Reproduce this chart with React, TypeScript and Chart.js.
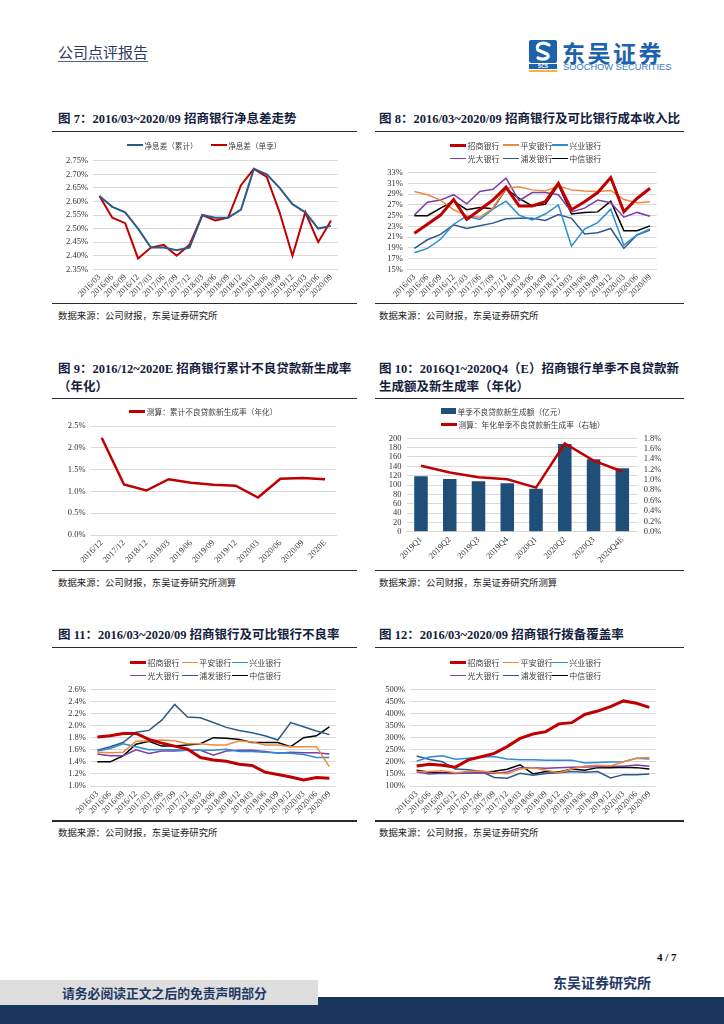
import React, { useEffect, useRef } from "react";
import { Chart, registerables } from "chart.js";

Chart.register(...registerables);

// ---------------- data ----------------
const quarters = ["2016/03","2016/06","2016/09","2016/12","2017/03","2017/06","2017/09","2017/12","2018/03","2018/06","2018/09","2018/12","2019/03","2019/06","2019/09","2019/12","2020/03","2020/06","2020/09"];

// Fig 7: net interest margin (%)
const nimNames = ["净息差（累计）", "净息差（单季）"];
const nimCumulative = [2.62,2.58,2.56,2.50,2.43,2.43,2.42,2.43,2.55,2.54,2.54,2.57,2.72,2.70,2.65,2.59,2.56,2.50,2.51];
const nimQuarterly = [2.62,2.54,2.52,2.39,2.43,2.44,2.40,2.44,2.55,2.53,2.54,2.66,2.72,2.69,2.56,2.40,2.56,2.45,2.53];

const bankNames = ["招商银行","平安银行","兴业银行","光大银行","浦发银行","中信银行"];

// Fig 8: cost-to-income ratio (%)
const cirCMB    = [21.7,23.4,25.1,28.0,24.3,26.1,27.9,30.3,26.8,26.8,27.6,31.0,26.1,27.6,29.3,32.1,25.7,28.2,30.1];
const cirPingAn = [29.5,28.9,27.9,26.1,25.0,24.7,26.4,30.1,30.4,29.8,29.6,30.5,29.8,29.6,29.5,29.7,28.0,27.4,27.6];
const cirCIB    = [18.1,18.9,20.6,23.4,24.9,24.3,26.2,27.7,25.1,24.2,25.3,27.0,19.3,22.5,23.7,26.2,19.5,21.4,22.5];
const cirCEB    = [25.1,27.5,27.9,28.9,27.2,29.5,29.9,32.0,27.8,29.3,29.3,28.9,25.7,26.4,27.9,27.4,24.7,25.6,24.9];
const cirSPDB   = [18.9,20.5,21.5,23.3,22.6,23.1,23.6,24.4,24.5,24.5,24.1,25.2,24.5,21.6,21.8,22.6,18.9,21.4,22.3];
const cirCITIC  = [25.0,25.0,26.4,27.7,26.1,26.5,26.3,30.0,28.2,26.8,27.1,30.7,25.3,25.6,25.7,27.7,22.2,22.2,23.1];

// Fig 9: cumulative NPL generation rate (annualised, %)
const genLabels = ["2016/12","2017/12","2018/12","2019/03","2019/06","2019/09","2019/12","2020/03","2020/06","2020/09","2020E"];
const genName = "测算：累计不良贷款新生成率（年化）";
const genRate = [2.23,1.16,1.02,1.28,1.20,1.15,1.13,0.86,1.29,1.31,1.28];

// Fig 10: quarterly new NPL amount and rate
const qLabels = ["2019Q1","2019Q2","2019Q3","2019Q4","2020Q1","2020Q2","2020Q3","2020Q4E"];
const qAmtName = "单季不良贷款新生成额（亿元）";
const qRateName = "测算：年化单季不良贷款新生成率（右轴）";
const qAmount = [119,113,108,104,92,188,155,136];
const qRate = [1.27,1.14,1.05,1.01,0.85,1.70,1.37,1.16];

// Fig 11: NPL ratio (%)
const nplCMB    = [1.81,1.83,1.87,1.87,1.77,1.71,1.66,1.61,1.47,1.43,1.41,1.36,1.34,1.23,1.19,1.15,1.10,1.14,1.13];
const nplPingAn = [1.56,1.55,1.56,1.74,1.75,1.76,1.75,1.70,1.70,1.68,1.68,1.75,1.73,1.68,1.68,1.65,1.65,1.65,1.32];
const nplCIB    = [1.58,1.62,1.70,1.65,1.60,1.60,1.60,1.59,1.59,1.59,1.61,1.57,1.57,1.56,1.55,1.54,1.52,1.47,1.47];
const nplCEB    = [1.53,1.50,1.50,1.60,1.54,1.58,1.58,1.59,1.59,1.51,1.58,1.59,1.59,1.57,1.54,1.56,1.55,1.55,1.53];
const nplSPDB   = [1.59,1.65,1.72,1.89,1.92,2.09,2.35,2.14,2.13,2.05,1.97,1.92,1.88,1.83,1.76,2.05,1.98,1.91,1.85];
const nplCITIC  = [1.40,1.40,1.50,1.69,1.74,1.66,1.66,1.68,1.70,1.80,1.79,1.77,1.72,1.72,1.72,1.65,1.80,1.83,1.98];

// Fig 12: provision coverage ratio (%)
const covCMB    = [183,190,186,178,208,221,235,263,297,315,325,357,362,396,410,428,452,442,425];
const covPingAn = [160,160,163,155,160,162,155,151,170,175,165,155,170,183,186,183,200,215,218];
const covCIB    = [203,220,225,211,215,220,222,212,209,209,207,207,207,195,197,199,200,215,212];
const covCEB    = [158,150,153,152,155,155,152,158,176,176,173,176,178,179,180,182,182,187,182];
const covSPDB   = [224,210,200,170,167,160,135,132,153,145,152,155,160,157,160,133,147,147,150];
const covCITIC  = [165,157,155,155,155,155,161,169,188,150,160,158,170,165,176,175,178,176,170];

// ---------------- styles ----------------
const RED = "#c00000";
const ORANGE = "#f0883e";
const LBLUE = "#2a8dd4";
const PURPLE = "#7b3fa8";
const DBLUE = "#2d5b89";
const BLACK = "#000000";
const bankColors = [RED, ORANGE, LBLUE, PURPLE, DBLUE, BLACK];
const bankWidths = [3, 1.5, 1.5, 1.5, 1.5, 1.5];

const SERIF = '"Liberation Serif", "Noto Sans CJK SC", serif';
const CJK = '"Noto Sans CJK SC", sans-serif';
const TITLE_FONT = '"Liberation Serif", "Noto Sans CJK SC", serif';
const tickFont = { family: '"Liberation Serif", serif', size: 8.5 };
const TICK_COLOR = "#333333";
const GRID = "#d9d9d9";

type Box = { x: number; y: number; w: number; h: number; yW: number; y2W?: number; padR: number; padT: number; xH: number };

function baseOptions(b: Box, yMin: number, yMax: number, step: number, fmt: (v: number) => string): any {
  return {
    responsive: true,
    maintainAspectRatio: false,
    animation: false,
    layout: { padding: { left: 0, right: b.padR, top: b.padT, bottom: 0 } },
    plugins: { legend: { display: false }, tooltip: { enabled: false } },
    elements: { point: { radius: 0 }, line: { tension: 0 } },
    scales: {
      x: {
        offset: true,
        grid: { display: false, drawTicks: false },
        border: { display: true, color: GRID },
        ticks: { autoSkip: false, minRotation: 45, maxRotation: 45, font: tickFont, color: TICK_COLOR, padding: 3 },
        afterFit: (s: any) => { s.height = b.xH; },
      },
      y: {
        min: yMin,
        max: yMax,
        grid: { color: GRID, drawTicks: false },
        border: { display: false },
        ticks: { autoSkip: false, stepSize: step, font: tickFont, color: TICK_COLOR, padding: 5, callback: (v: any) => fmt(Number(v)) },
        afterFit: (s: any) => { s.width = b.yW; },
      },
    },
  };
}

function bankDatasets(series: number[][]) {
  return series.map((d, i) => ({
    type: "line",
    label: bankNames[i],
    data: d,
    borderColor: bankColors[i],
    backgroundColor: bankColors[i],
    borderWidth: bankWidths[i],
    pointRadius: 0,
    order: i === 0 ? 0 : 1 + i,
  }));
}

// ---------------- boxes ----------------
const B7: Box = { x: 52, y: 132, w: 304, h: 171, yW: 41, padR: 18.5, padT: 28.7, xH: 33.7 };
const B8: Box = { x: 376, y: 132, w: 307, h: 171, yW: 31.8, padR: 26.4, padT: 40.7, xH: 33.7 };
const B9: Box = { x: 52, y: 399, w: 304, h: 169, yW: 38.5, padR: 19.8, padT: 27, xH: 33 };
const B10: Box = { x: 376, y: 399, w: 307, h: 169, yW: 30.6, y2W: 25.3, padR: 21, padT: 39.3, xH: 36.3 };
const B11: Box = { x: 52, y: 649, w: 304, h: 171, yW: 38.9, padR: 20.2, padT: 40.3, xH: 34 };
const B12: Box = { x: 376, y: 649, w: 307, h: 171, yW: 34.2, padR: 27.2, padT: 40.3, xH: 34 };

function config7() {
  const o = baseOptions(B7, 2.35, 2.75, 0.05, (v) => v.toFixed(2) + "%");
  return {
    type: "line",
    data: {
      labels: quarters,
      datasets: [
        { label: nimNames[0], data: nimCumulative, borderColor: DBLUE, backgroundColor: DBLUE, borderWidth: 2, pointRadius: 0 },
        { label: nimNames[1], data: nimQuarterly, borderColor: RED, backgroundColor: RED, borderWidth: 2, pointRadius: 0 },
      ],
    },
    options: o,
  };
}

function config8() {
  return {
    type: "line",
    data: { labels: quarters, datasets: bankDatasets([cirCMB, cirPingAn, cirCIB, cirCEB, cirSPDB, cirCITIC]) },
    options: baseOptions(B8, 15, 33, 2, (v) => Math.round(v) + "%"),
  };
}

function config9() {
  return {
    type: "line",
    data: {
      labels: genLabels,
      datasets: [{ label: genName, data: genRate, borderColor: RED, backgroundColor: RED, borderWidth: 2.5, pointRadius: 0 }],
    },
    options: baseOptions(B9, 0, 2.5, 0.5, (v) => v.toFixed(1) + "%"),
  };
}

function config10() {
  const o = baseOptions(B10, 0, 200, 20, (v) => String(Math.round(v)));
  o.scales.y2 = {
    position: "right",
    min: 0,
    max: 1.8,
    grid: { display: false, drawTicks: false },
    border: { display: false },
    ticks: { autoSkip: false, stepSize: 0.2, font: tickFont, color: TICK_COLOR, padding: 7, callback: (v: any) => Number(v).toFixed(1) + "%" },
    afterFit: (s: any) => { s.width = B10.y2W; },
  };
  return {
    type: "bar",
    data: {
      labels: qLabels,
      datasets: [
        { type: "line", label: qRateName, data: qRate, yAxisID: "y2", borderColor: RED, backgroundColor: RED, borderWidth: 2.5, pointRadius: 0, order: 0 },
        { type: "bar", label: qAmtName, data: qAmount, yAxisID: "y", backgroundColor: "#1f4e79", categoryPercentage: 1, barPercentage: 0.47, order: 1 },
      ],
    },
    options: o,
  };
}

function config11() {
  return {
    type: "line",
    data: { labels: quarters, datasets: bankDatasets([nplCMB, nplPingAn, nplCIB, nplCEB, nplSPDB, nplCITIC]) },
    options: baseOptions(B11, 1.0, 2.6, 0.2, (v) => v.toFixed(1) + "%"),
  };
}

function config12() {
  return {
    type: "line",
    data: { labels: quarters, datasets: bankDatasets([covCMB, covPingAn, covCIB, covCEB, covSPDB, covCITIC]) },
    options: baseOptions(B12, 100, 500, 50, (v) => Math.round(v) + "%"),
  };
}

// ---------------- components ----------------
function ChartBox({ box, make }: { box: Box; make: () => any }) {
  const ref = useRef<HTMLCanvasElement>(null);
  useEffect(() => {
    const chart = new Chart(ref.current as HTMLCanvasElement, make());
    return () => chart.destroy();
  }, []);
  return (
    <div style={{ position: "absolute", left: box.x, top: box.y, width: box.w, height: box.h }}>
      <canvas ref={ref} />
    </div>
  );
}

function Txt(props: { x: number; y: number; size: number; children: any; bold?: boolean; color?: string; family?: string; spacing?: number }) {
  const { x, y, size, children, bold, color, family, spacing } = props;
  return (
    <div
      style={{
        position: "absolute",
        left: x,
        top: y - size * 0.7,
        fontSize: size,
        lineHeight: `${size * 1.4}px`,
        fontWeight: bold ? 700 : 400,
        color: color || "#111",
        fontFamily: family || SERIF,
        whiteSpace: "nowrap",
        letterSpacing: spacing || 0,
      }}
    >
      {children}
    </div>
  );
}

function Rule({ x1, x2, y, t, color }: { x1: number; x2: number; y: number; t?: number; color?: string }) {
  const th = t || 1.5;
  return <div style={{ position: "absolute", left: x1, top: y - th / 2, width: x2 - x1, height: th, background: color || "#2b2b2b" }} />;
}

function Leg({ x, y, color, lw, text, size, bar }: { x: number; y: number; color: string; lw: number; text: string; size: number; bar?: boolean }) {
  return (
    <div
      style={{
        position: "absolute",
        left: x,
        top: y - 7,
        height: 14,
        display: "flex",
        alignItems: "center",
        whiteSpace: "nowrap",
        fontFamily: CJK,
        fontSize: size,
        color: "#404040",
      }}
    >
      <span style={{ display: "inline-block", width: bar ? 15 : 16, height: bar ? 6 : lw, background: color, marginRight: 1.5 }} />
      <span>{text}</span>
    </div>
  );
}

function BankLegend({ cols, rows }: { cols: number[]; rows: number[] }) {
  const items = bankNames.map((n, i) => (
    <Leg key={n} x={cols[i % 3]} y={rows[Math.floor(i / 3)]} color={bankColors[i]} lw={i === 0 ? 3 : 1.5} text={n} size={8} />
  ));
  return <>{items}</>;
}

function Logo() {
  return (
    <>
      <svg style={{ position: "absolute", left: 529, top: 40 }} width={28} height={33} viewBox="0 0 28 33">
        <rect x={0} y={0} width={28} height={23} rx={2} fill="#1d62ad" />
        <path d="M20 5 C14 1,6 4,9 10 L18 14 C22 17,16 21,9 18" stroke="#fff" strokeWidth={3.2} fill="none" strokeLinecap="round" />
        <rect x={0} y={24} width={28} height={5} fill="#1d62ad" />
        <text x={14} y={28.3} fontSize={5} fill="#fff" textAnchor="middle" fontFamily="Liberation Sans" fontWeight={700}>SCS</text>
        <rect x={0} y={30} width={28} height={2} fill="#f5b335" />
      </svg>
      <Txt x={562} y={52} size={23} bold color="#1d62ad" family={CJK} spacing={2.5}>东吴证券</Txt>
      <Txt x={563} y={67.5} size={9.3} color="#3b7cc7" family='"Liberation Sans", Arial, sans-serif'>SOOCHOW SECURITIES</Txt>
    </>
  );
}

export default function App() {
  const titleSize = 12.5;
  const srcSize = 9.4;
  const TC = "#14213d";
  const src1 = "数据来源：公司财报，东吴证券研究所";
  const src2 = "数据来源：公司财报，东吴证券研究所测算";
  return (
    <div style={{ position: "absolute", left: 0, top: 0, width: 724, height: 1024, overflow: "hidden", background: "#fff" }}>
      {/* header */}
      <Txt x={58} y={51} size={15} color="#2c3a63" family={CJK}>公司点评报告</Txt>
      <Rule x1={58} x2={148} y={61} t={1} color="#56607e" />
      <Logo />

      {/* Fig 7 / 8 */}
      <Txt x={58} y={120} size={titleSize} bold color={TC} family={TITLE_FONT}>图 7：2016/03~2020/09 招商银行净息差走势</Txt>
      <Txt x={379} y={120} size={titleSize} bold color={TC} family={TITLE_FONT}>图 8：2016/03~2020/09 招商银行及可比银行成本收入比</Txt>
      <Rule x1={52} x2={357} y={131.5} />
      <Rule x1={375} x2={684} y={131.5} />
      <ChartBox box={B7} make={config7} />
      <ChartBox box={B8} make={config8} />
      <Leg x={127} y={145} color={DBLUE} lw={2} text={nimNames[0]} size={7.6} />
      <Leg x={210.7} y={145} color={RED} lw={2} text={nimNames[1]} size={7.6} />
      <BankLegend cols={[450, 503, 551.7]} rows={[145, 158.3]} />
      <Rule x1={52} x2={357} y={303.7} />
      <Rule x1={375} x2={684} y={303.7} />
      <Txt x={58} y={316} size={srcSize} color="#222" family={CJK}>{src1}</Txt>
      <Txt x={379} y={316} size={srcSize} color="#222" family={CJK}>{src1}</Txt>

      {/* Fig 9 / 10 */}
      <Txt x={58} y={370} size={titleSize} bold color={TC} family={TITLE_FONT}>图 9：2016/12~2020E 招商银行累计不良贷款新生成率</Txt>
      <Txt x={58} y={387.5} size={titleSize} bold color={TC} family={TITLE_FONT}>（年化）</Txt>
      <Txt x={379} y={370} size={titleSize} bold color={TC} family={TITLE_FONT}>图 10：2016Q1~2020Q4（E）招商银行单季不良贷款新</Txt>
      <Txt x={379} y={387.5} size={titleSize} bold color={TC} family={TITLE_FONT}>生成额及新生成率（年化）</Txt>
      <Rule x1={52} x2={357} y={398.3} />
      <Rule x1={375} x2={684} y={398.3} />
      <ChartBox box={B9} make={config9} />
      <ChartBox box={B10} make={config10} />
      <Leg x={129.3} y={411.7} color={RED} lw={2.5} text={genName} size={7.7} />
      <Leg x={441} y={411} color="#1f4e79" lw={6} text={qAmtName} size={7.7} bar />
      <Leg x={441} y={424.3} color={RED} lw={2.5} text={qRateName} size={7.7} />
      <Rule x1={52} x2={357} y={570.7} />
      <Rule x1={375} x2={684} y={570.7} />
      <Txt x={58} y={583} size={srcSize} color="#222" family={CJK}>{src2}</Txt>
      <Txt x={379} y={583} size={srcSize} color="#222" family={CJK}>{src2}</Txt>

      {/* Fig 11 / 12 */}
      <Txt x={58} y={636} size={titleSize} bold color={TC} family={TITLE_FONT}>图 11：2016/03~2020/09 招商银行及可比银行不良率</Txt>
      <Txt x={379} y={636} size={titleSize} bold color={TC} family={TITLE_FONT}>图 12：2016/03~2020/09 招商银行拨备覆盖率</Txt>
      <Rule x1={52} x2={357} y={647.5} />
      <Rule x1={375} x2={684} y={647.5} />
      <ChartBox box={B11} make={config11} />
      <ChartBox box={B12} make={config12} />
      <BankLegend cols={[130, 181.7, 231.7]} rows={[662.7, 675.3]} />
      <BankLegend cols={[450, 503.3, 551.7]} rows={[662.7, 675.3]} />
      <Rule x1={52} x2={357} y={821} />
      <Rule x1={375} x2={684} y={821} />
      <Txt x={58} y={833} size={srcSize} color="#222" family={CJK}>{src1}</Txt>
      <Txt x={379} y={833} size={srcSize} color="#222" family={CJK}>{src1}</Txt>

      {/* footer */}
      <Txt x={657} y={958} size={11} bold color="#111" family={SERIF}>4 / 7</Txt>
      <Txt x={553} y={983} size={14} bold color="#1f3864" family={CJK}>东吴证券研究所</Txt>
      <div style={{ position: "absolute", left: 0, top: 997, width: 724, height: 27, background: "#1b365d" }} />
      <div style={{ position: "absolute", left: 0, top: 980, width: 318, height: 25, background: "#dedede" }} />
      <Txt x={62} y={992.5} size={12.8} bold color="#1f3864" family={CJK}>请务必阅读正文之后的免责声明部分</Txt>
    </div>
  );
}
